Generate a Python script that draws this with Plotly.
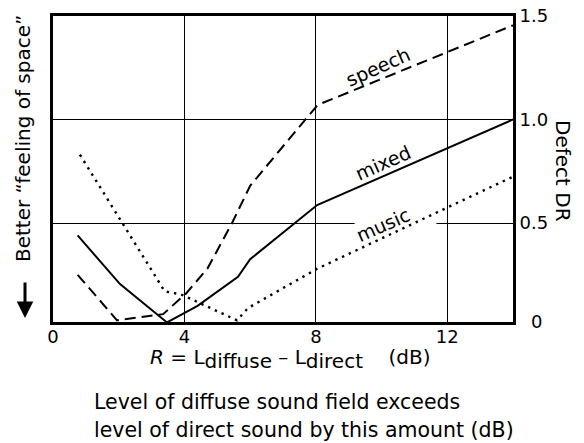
import plotly.graph_objects as go

# ---- data ----
speech_x = [0.75, 1.95, 3.35, 4.05, 4.7, 5.45, 6.0, 8.05, 14.0]
speech_y = [0.25, 0.03, 0.06, 0.16, 0.28, 0.50, 0.68, 1.07, 1.455]

mixed_x = [0.75, 2.04, 3.47, 4.4, 5.63, 6.0, 8.04, 14.0]
mixed_y = [0.44, 0.205, 0.02, 0.10, 0.24, 0.325, 0.587, 1.0]

music_x = [0.82, 3.4, 3.9, 5.6, 5.94, 8.05, 14.0]
music_y = [0.83, 0.17, 0.155, 0.03, 0.09, 0.28, 0.724]

x_ticks = [0, 4, 8, 12]
y_tickvals = [0.022, 0.5, 1.0, 1.5]
y_ticktext = ["\u20070", "0.5", "1.0", "1.5"]

FONT = "DejaVu Sans"

# plot area in reference pixels: x 53..513, y 16..322
def px(xp):
    return (xp - 53) / 460

def py(yp):
    return (322 - yp) / 306

fig = go.Figure()
fig.add_trace(go.Scatter(x=speech_x, y=speech_y, mode="lines",
                         line=dict(color="black", width=2, dash="11px,6px"),
                         showlegend=False))
fig.add_trace(go.Scatter(x=mixed_x, y=mixed_y, mode="lines",
                         line=dict(color="black", width=2),
                         showlegend=False))
fig.add_trace(go.Scatter(x=music_x, y=music_y, mode="lines",
                         line=dict(color="black", width=2.4, dash="2.4px,5px"),
                         showlegend=False))

# gap in the 0.5 gridline behind the "music" label
fig.add_shape(type="rect", x0=9.18, x1=11.67, y0=0.49, y1=0.51,
              fillcolor="white", line=dict(width=0), layer="between")

# curve labels
for txt, x, y in [("speech", 9.88, 1.255), ("mixed", 10.03, 0.79), ("music", 10.03, 0.49)]:
    fig.add_annotation(x=x, y=y, text=txt, showarrow=False, textangle=-24,
                       xanchor="center", yanchor="middle",
                       font=dict(family=FONT, size=19, color="black"))

# left label and arrow
fig.add_annotation(xref="paper", yref="paper", x=px(23), y=py(139),
                   xanchor="center", yanchor="middle",
                   text="Better \u201cfeeling of space\u201d", textangle=-90, showarrow=False,
                   font=dict(family=FONT, size=20, color="black"))
fig.add_annotation(xref="paper", yref="paper", x=px(25), y=py(318),
                   text="", showarrow=True, ax=0, ay=-37, arrowhead=2,
                   arrowwidth=3, arrowsize=1.1, arrowcolor="black")

# right label
fig.add_annotation(xref="paper", yref="paper", x=px(563), y=py(171),
                   xanchor="center", yanchor="middle",
                   text="Defect DR", textangle=90, showarrow=False,
                   font=dict(family=FONT, size=20, color="black"))

# x-axis title lines
fig.add_annotation(xref="paper", yref="paper", x=px(148), y=py(343),
                   xanchor="left", yanchor="top", showarrow=False,
                   text="<i>R</i> = L<sub><span style='font-size:20px'>diffuse</span></sub>"
                        " \u2013 L<sub><span style='font-size:20px'>direct</span></sub>"
                        "\u00a0\u00a0\u00a0\u00a0(dB)",
                   font=dict(family=FONT, size=20, color="black"))
fig.add_annotation(xref="paper", yref="paper", x=px(92), y=py(388),
                   xanchor="left", yanchor="top", showarrow=False,
                   text="Level of diffuse sound field exceeds",
                   font=dict(family=FONT, size=20.5, color="black"))
fig.add_annotation(xref="paper", yref="paper", x=px(92), y=py(416),
                   xanchor="left", yanchor="top", showarrow=False,
                   text="level of direct sound by this amount (dB)",
                   font=dict(family=FONT, size=20.5, color="black"))

# the page body has an 8px margin, so the figure is sized to end at 584x443
fig.update_layout(
    width=576, height=435,
    margin=dict(l=45, r=71, t=8, b=121, autoexpand=False),
    paper_bgcolor="white", plot_bgcolor="white",
    showlegend=False,
    font=dict(family=FONT, size=18, color="black"),
)
fig.update_xaxes(range=[0, 14], tickvals=x_ticks, showgrid=True, gridcolor="black",
                 gridwidth=1.3, zeroline=False, showline=True, linecolor="black",
                 linewidth=3, mirror=True, ticks="", ticklabelstandoff=-4, automargin=False,
                 ticklabeloverflow="allow",
                 tickfont=dict(family=FONT, size=18, color="black"))
fig.update_yaxes(range=[0.022, 1.5], side="right", tickvals=y_tickvals, ticktext=y_ticktext,
                 showgrid=True, gridcolor="black", gridwidth=1.3, zeroline=False,
                 showline=True, linecolor="black", linewidth=3, mirror=True, ticks="",
                 ticklabelstandoff=0, automargin=False, ticklabeloverflow="allow",
                 tickfont=dict(family=FONT, size=18, color="black"))

fig.write_html("out.html")
